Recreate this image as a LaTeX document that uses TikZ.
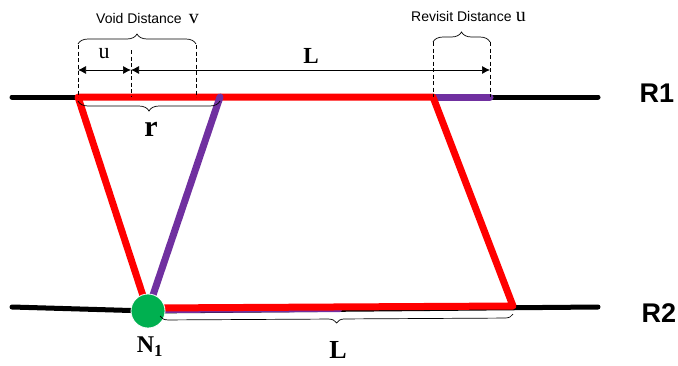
\documentclass[tikz,border=0pt]{standalone}
\usepackage{fontspec}
\setmainfont{Liberation Serif}
\setsansfont{Liberation Sans}
\usetikzlibrary{decorations.pathreplacing,arrows.meta}
\definecolor{myred}{RGB}{255,0,0}
\definecolor{mypurple}{RGB}{112,48,160}
\definecolor{mygreen}{RGB}{0,176,80}
\tikzset{
  road/.style={line width=5pt,black,line cap=round},
  redpath/.style={line width=7pt,myred,line cap=round,line join=round},
  purplepath/.style={line width=7pt,mypurple,line cap=round},
  dimline/.style={line width=0.7pt,black,{Latex[length=8pt,width=8pt]}-{Latex[length=8pt,width=8pt]}},
  guide/.style={line width=0.7pt,black,dashed,dash pattern=on 4pt off 2.5pt},
  bracetop/.style={decorate,decoration={brace,amplitude=10pt},line width=0.7pt},
  lbl/.style={font=\sffamily\fontsize{14}{16}\selectfont,inner sep=0pt,anchor=west},
  big/.style={font=\bfseries\fontsize{26}{28}\selectfont,inner sep=0pt},
  rlabel/.style={font=\sffamily\bfseries\fontsize{27}{30}\selectfont,inner sep=0pt}
}
\begin{document}
\begin{tikzpicture}[x=1pt,y=-1pt]
\useasboundingbox (0,0) rectangle (678,365);
% coordinates
\coordinate (r1a) at (12,97);
\coordinate (r1b) at (598,97);
\coordinate (p0) at (78,97);
\coordinate (pu) at (131,97);
\coordinate (pv) at (196,97);
\coordinate (pr) at (220,97);
\coordinate (pl) at (433,97);
\coordinate (pe) at (490,97);
\coordinate (r2a) at (12,307);
\coordinate (r2b) at (598,307);
\coordinate (n1c) at (148,311);
\coordinate (q1) at (513,306);
% roads
\draw[road] (r1a) -- (r1b);
\draw[road] (r2a) -- (n1c) -- (r2b);
% paths
\draw[purplepath] (pl) -- (pe);
\draw[purplepath,line width=4pt] (152,311) -- (340,310);
\draw[redpath] (n1c) -- (p0) -- (pl) -- (q1) -- (152,308);
\draw[purplepath] (pr) -- (152,298);
\node[circle,fill=mygreen,draw=white,line width=0.8pt,minimum size=34pt,inner sep=0pt] (n1) at (n1c) {};
% guides
\draw[guide] (78,45) -- (p0);
\draw[guide] (131,50) -- (pu);
\draw[guide] (196,45) -- (pv);
\draw[guide] (433,42) -- (pl);
\draw[guide] (490,42) -- (pe);
% dimension arrows
\coordinate (a0) at (78,70);
\coordinate (a1) at (131,70);
\coordinate (a2) at (490,70);
\draw[dimline] (a0) -- (a1);
\draw[dimline] (a1) -- (a2);
% braces
\draw[bracetop] (78,44) -- (196,44);
\draw[bracetop] (433,42) -- (490,42);
\draw[bracetop] (220,101) -- (78,101);
\draw[bracetop,decoration={brace,amplitude=8pt}] (513,314) -- (160,316);
% labels
\node[lbl] (vd) at (96,19) {Void Distance\hspace{0.5em}{\rmfamily\fontsize{20}{22}\selectfont v}};
\node[lbl] (rd) at (411,17) {Revisit Distance\hspace{0.3em}{\rmfamily\fontsize{20}{22}\selectfont u}};
\node[inner sep=0pt,font=\fontsize{22}{24}\selectfont] (ul) at (104,54) {u};
\node[font=\bfseries\fontsize{23}{25}\selectfont,inner sep=0pt] (Lt) at (311,56) {L};
\node[big,font=\bfseries\fontsize{30}{32}\selectfont] (rl) at (151,129) {r};
\node[big] (Lb) at (338,350) {L};
\node[big,font=\bfseries\fontsize{24}{26}\selectfont] (n1l) at (150,347) {N$_{\mathbf 1}$};
\node[rlabel] (R1) at (657,93) {R1};
\node[rlabel] (R2) at (659,313) {R2};
\end{tikzpicture}
\end{document}
